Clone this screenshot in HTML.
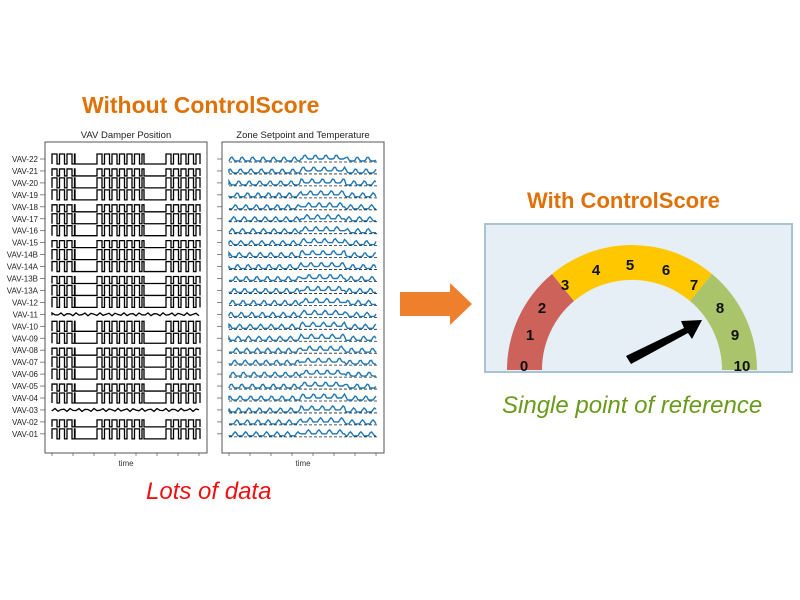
<!DOCTYPE html>
<html><head><meta charset="utf-8"><style>
body{margin:0;width:800px;height:600px;background:#fff;overflow:hidden;position:relative;font-family:"Liberation Sans",sans-serif}
.t{position:absolute;white-space:nowrap}
</style></head><body>
<div class="t" style="left:82px;top:92px;font-size:23px;font-weight:bold;color:#de7208">Without ControlScore</div>
<div class="t" style="left:527px;top:188px;font-size:22px;font-weight:bold;color:#de7208">With ControlScore</div>
<div class="t" style="left:146px;top:478px;font-size:24px;font-style:italic;color:#ee1111">Lots of data</div>
<div class="t" style="left:502px;top:392px;font-size:24px;font-style:italic;color:#6a9a1a">Single point of reference</div>
<svg id="s" width="800" height="600" style="position:absolute;left:0;top:0" font-family="Liberation Sans, sans-serif">
<text x="126" y="138" font-size="9.5" text-anchor="middle" fill="#222">VAV Damper Position</text>
<text x="303" y="138" font-size="9.5" text-anchor="middle" fill="#222">Zone Setpoint and Temperature</text>
<rect x="45" y="142" width="162" height="311" fill="none" stroke="#555" stroke-width="1"/>
<rect x="222" y="142" width="162" height="311" fill="none" stroke="#555" stroke-width="1"/>
<text x="126" y="466" font-size="8" text-anchor="middle" fill="#333">time</text>
<text x="303" y="466" font-size="8" text-anchor="middle" fill="#333">time</text>
<g id="g"></g>
<polygon points="400,292 450,292 450,283 472,304 450,325 450,316 400,316" fill="#ee7f2d"/>
<rect x="485" y="224" width="307" height="148" fill="#e6eff5" stroke="#a9c3d0" stroke-width="2"/>
<path d="M507,370 A125,125 0 0 1 552,274 L574,301 A90,90 0 0 0 542,370 Z" fill="#cd625a"/>
<path d="M552,274 A125,125 0 0 1 712,274 L690,301 A90,90 0 0 0 574,301 Z" fill="#fec700"/>
<path d="M712,274 A125,125 0 0 1 757,370 L722,370 A90,90 0 0 0 690,301 Z" fill="#a9c46a"/>
<g font-size="15" font-weight="bold" fill="#111" text-anchor="middle">
<text x="524" y="371">0</text><text x="530" y="340">1</text><text x="542" y="313">2</text><text x="565" y="290">3</text><text x="596" y="275">4</text><text x="630" y="270">5</text><text x="666" y="275">6</text><text x="694" y="290">7</text><text x="720" y="313">8</text><text x="735" y="340">9</text><text x="742" y="371">10</text>
</g>
<polygon points="626,356 684,328 681,321 702,320 692,339 688,333 631,364" fill="#000"/>
</svg>
<script>
(function(){
var labels=["VAV-22","VAV-21","VAV-20","VAV-19","VAV-18","VAV-17","VAV-16","VAV-15","VAV-14B","VAV-14A","VAV-13B","VAV-13A","VAV-12","VAV-11","VAV-10","VAV-09","VAV-08","VAV-07","VAV-06","VAV-05","VAV-04","VAV-03","VAV-02","VAV-01"];
var h='';
function blocks(x0){return [[x0,x0+23],[x0+45,x0+92],[x0+114,x0+148]];}
for(var i=0;i<24;i++){
 var y=159+i*11.95;
 h+='<text x="38" y="'+(y+3)+'" font-size="8" text-anchor="end" fill="#222">'+labels[i]+'</text>';
 h+='<line x1="40" y1="'+y+'" x2="45" y2="'+y+'" stroke="#555" stroke-width="0.7"/>';
 h+='<line x1="217" y1="'+y+'" x2="222" y2="'+y+'" stroke="#555" stroke-width="0.7"/>';
 var hi=y-5,lo=y+5,d='M52,'+lo;
 var bl=blocks(52);
 if(i==13||i==21){d='M52,'+(y+1);for(var x=52;x<=200;x+=3)d+=' L'+x+','+(y+(Math.sin(x*1.3+i)*1.5)).toFixed(1);}
 else{
 for(var b=0;b<3;b++){var a=bl[b][0],e=bl[b][1];d+=' L'+a+','+lo;
  for(var x=a;x<e;x+=7.5){var t=hi+((i%3==1)?3:0);d+=' L'+x+','+t+' L'+Math.min(x+5,e)+','+t+' L'+Math.min(x+5,e)+','+lo+' L'+Math.min(x+7.5,e)+','+lo;}
 }
 d+=' L200,'+lo;}
 h+='<path d="'+d+'" fill="none" stroke="#000" stroke-width="1.3"/>';
 var dy=y+2, d2='M229,'+dy;
 for(var x=229;x<=377;x+=1.5){var v=dy-4*Math.max(0,Math.sin((x-229)*0.6+i))-(x>300&&x<345?2:0);d2+=' L'+x+','+v.toFixed(1);}
 h+='<line x1="229" y1="'+(y+3)+'" x2="377" y2="'+(y+3)+'" stroke="#222" stroke-width="0.8" stroke-dasharray="3,2"/>';
 h+='<path d="'+d2+'" fill="none" stroke="#1f77b4" stroke-width="1.4"/>';
}
for(var k=0;k<8;k++){var tx=52+k*21;h+='<line x1="'+tx+'" y1="453" x2="'+tx+'" y2="456" stroke="#555" stroke-width="0.7"/><line x1="'+(tx+177)+'" y1="453" x2="'+(tx+177)+'" y2="456" stroke="#555" stroke-width="0.7"/>';}
document.getElementById('g').innerHTML=h;
})();
</script>
</body></html>
